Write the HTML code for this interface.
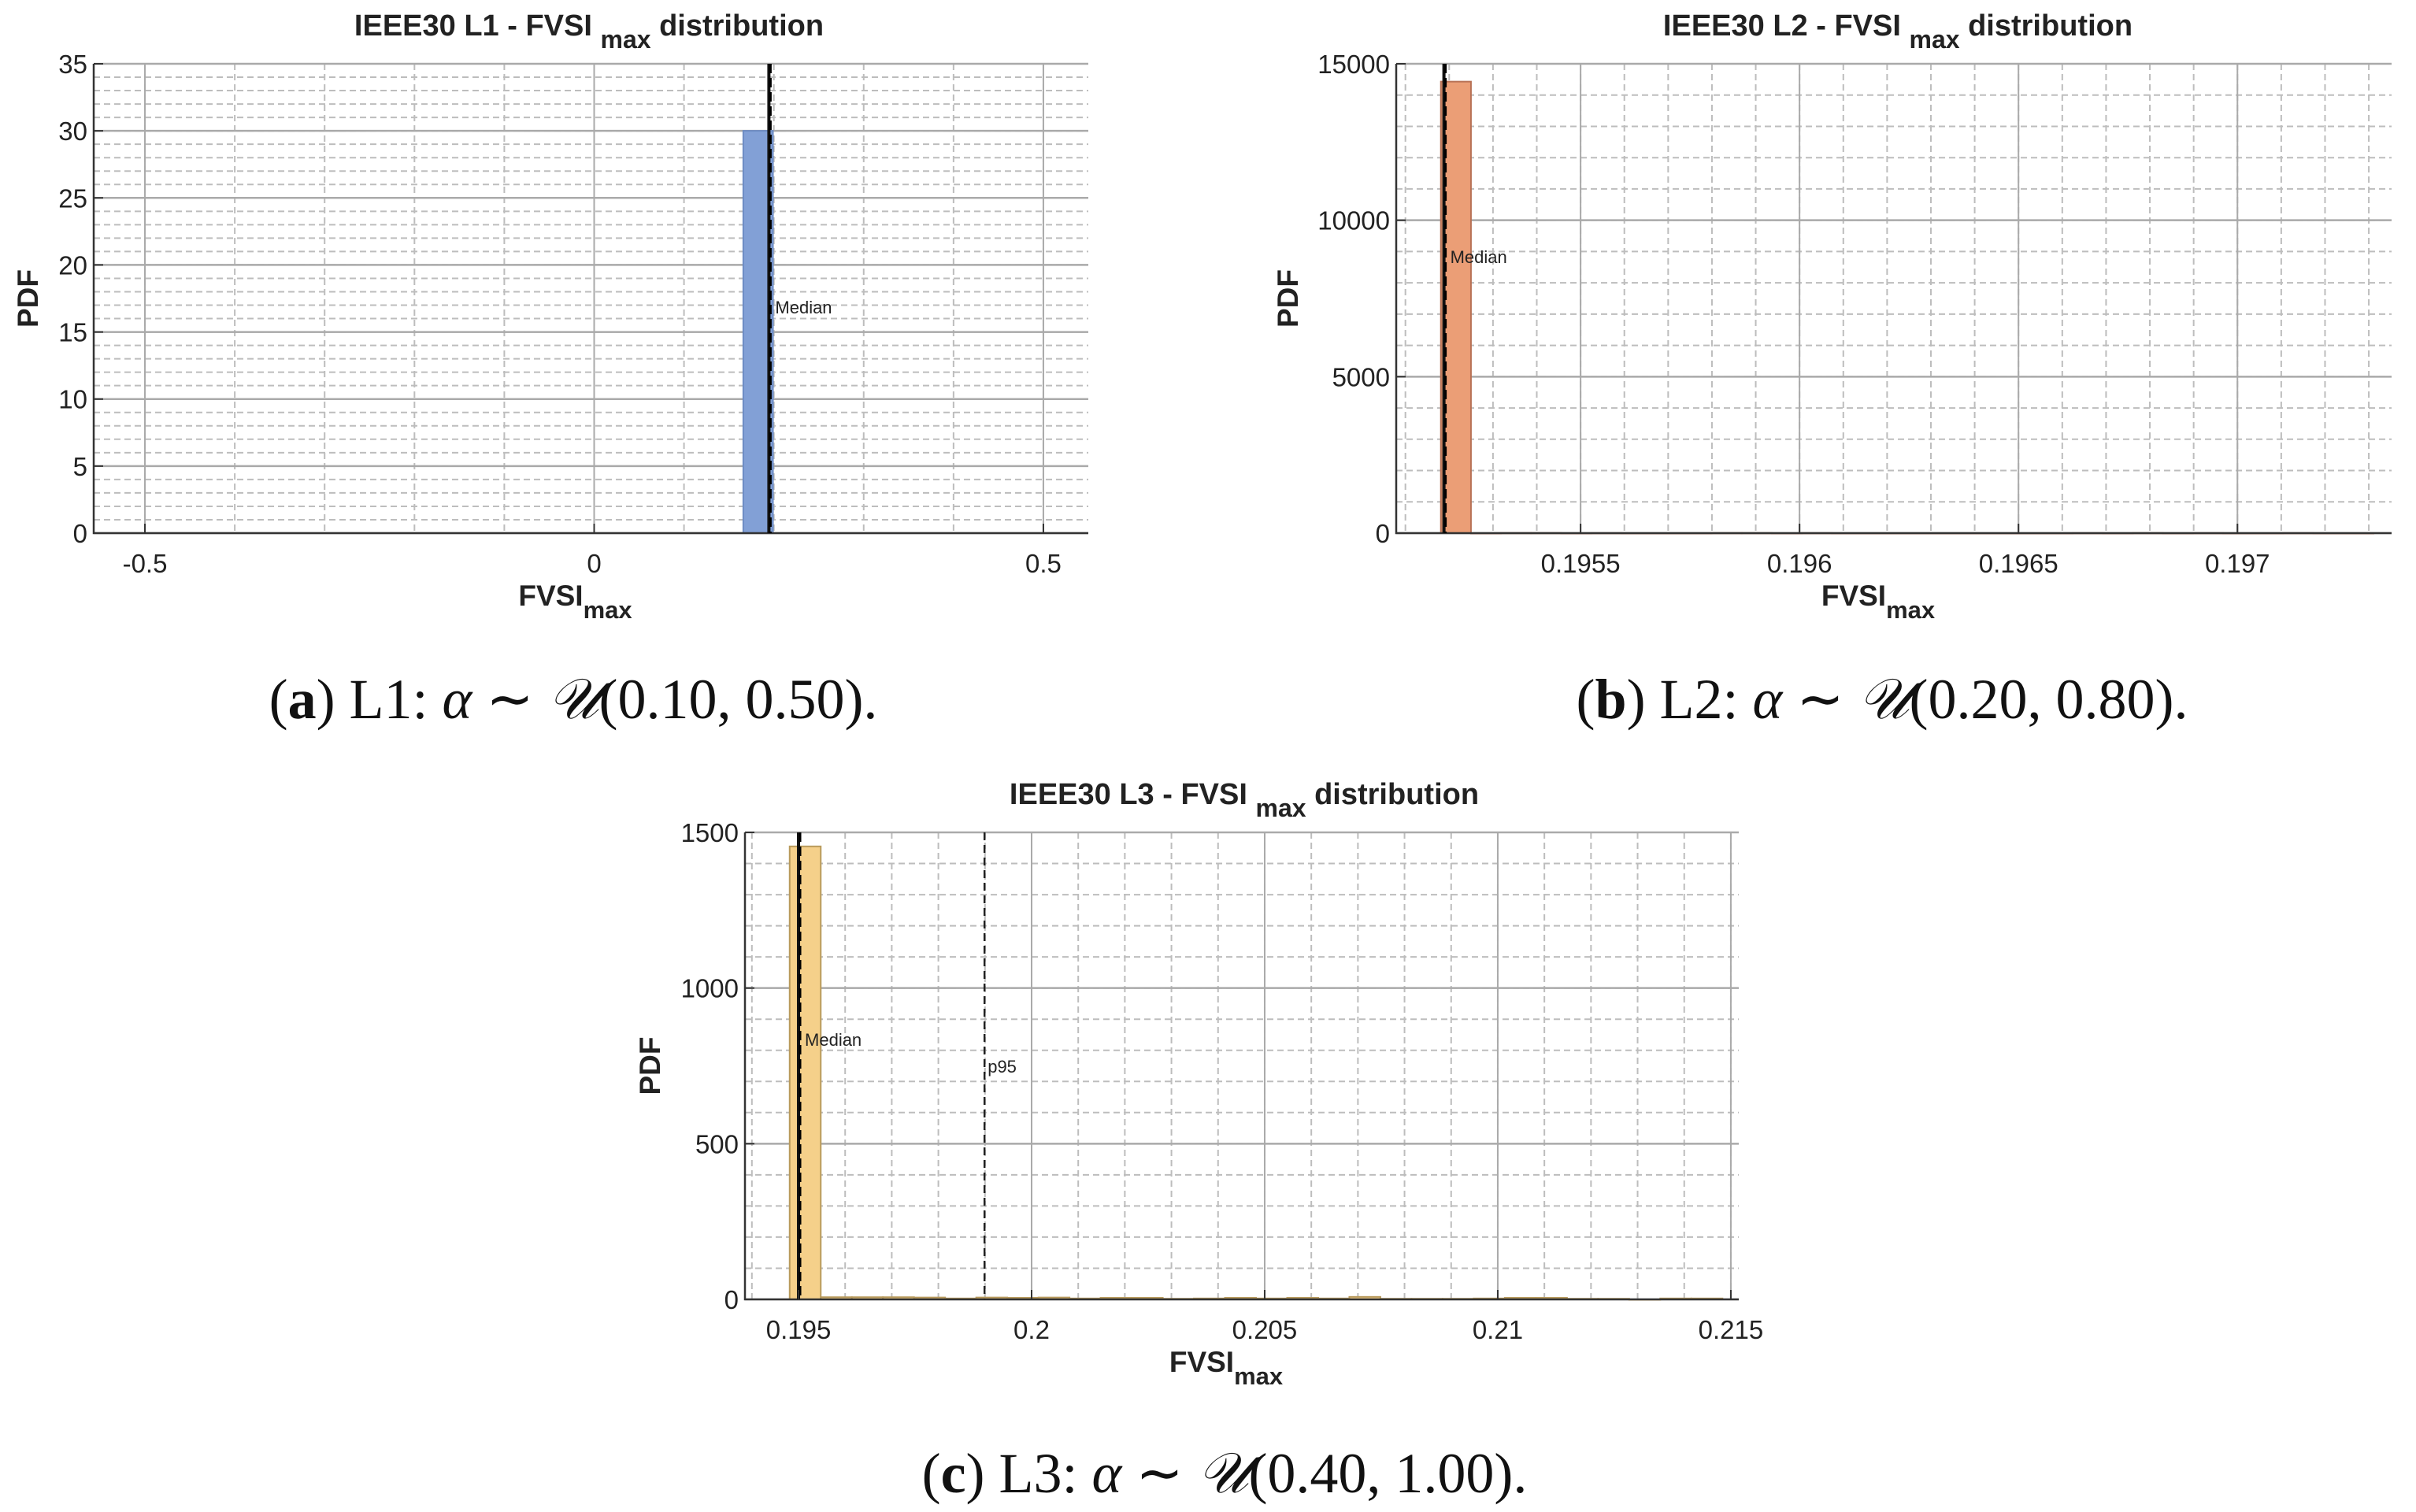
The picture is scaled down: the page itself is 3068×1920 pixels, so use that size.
<!DOCTYPE html>
<html><head><meta charset="utf-8"><style>
html,body{margin:0;padding:0;background:#fff;}
svg{display:block;}
text{font-family:"Liberation Sans",sans-serif;fill:#222;}
.cap{font-family:"Liberation Serif",serif;font-size:72px;fill:#111;}
</style></head><body>
<svg id="fig" width="3068" height="1920" viewBox="0 0 3068 1920" xmlns="http://www.w3.org/2000/svg">
<text class="cap" x="728" y="912" text-anchor="middle">(<tspan font-weight="bold">a</tspan>) L1: <tspan font-style="italic">α</tspan> ∼ <tspan font-style="italic">𝒰</tspan>(0.10, 0.50).</text>
<text class="cap" x="2390" y="912" text-anchor="middle">(<tspan font-weight="bold">b</tspan>) L2: <tspan font-style="italic">α</tspan> ∼ <tspan font-style="italic">𝒰</tspan>(0.20, 0.80).</text>
<text class="cap" x="1555" y="1895" text-anchor="middle">(<tspan font-weight="bold">c</tspan>) L3: <tspan font-style="italic">α</tspan> ∼ <tspan font-style="italic">𝒰</tspan>(0.40, 1.00).</text>
</svg>
<script>
// Panel A data
const aBinStart = 0.166;
const aBinWidth = 0.033;
const aValues = [30];
const aMedian = 0.1945;
const aXTicks = [-0.5, 0, 0.5];
const aYTicks = [0, 5, 10, 15, 20, 25, 30, 35];
// Panel B data
const bBinStart = 0.195181;
const bBinWidth = 0.0000687;
const bValues = [14430,0,5,5,0,3,0,0,0,4,4,0,3,0,0,0,0,0,0,0,0,3,0,4,0,3,0,0,3,0,0];
const bMedian = 0.195188;
const bXTicks = [0.1955, 0.196, 0.1965, 0.197];
const bYTicks = [0, 5000, 10000, 15000];
// Panel C data
const cBinStart = 0.19481;
const cBinWidth = 0.000667;
const cValues = [1455,7,7,7,6,3,6,5,6,3,5,5,2,3,5,3,5,3,8,2,2,2,3,5,5,2,2,0,3,3];
const cMedian = 0.19500;
const cP95 = 0.19899;
const cXTicks = [0.195, 0.2, 0.205, 0.21, 0.215];
const cXTickLabels = ['0.195','0.2','0.205','0.21','0.215'];
const cYTicks = [0, 500, 1000, 1500];

const NS = 'http://www.w3.org/2000/svg';
const svg = document.getElementById('fig');
function el(tag, attrs, parent){const e=document.createElementNS(NS,tag);for(const k in attrs)e.setAttribute(k,attrs[k]);(parent||svg).appendChild(e);return e;}

function panel(cfg){
  const g = el('g',{});
  
  
  const sx = v => cfg.L + (v-cfg.x0)/(cfg.x1-cfg.x0)*(cfg.R-cfg.L);
  const sy = v => cfg.B - (v-cfg.y0)/(cfg.y1-cfg.y0)*(cfg.B-cfg.T);
  for(let v=Math.ceil(cfg.x0/cfg.xMinor-1e-9)*cfg.xMinor; v<=cfg.x1+1e-12; v+=cfg.xMinor){
    const x=sx(v); if(x<cfg.L+1) continue;
    const ln=el('line',{x1:x,x2:x,y1:cfg.T,y2:cfg.B,stroke:'#bdbdbd','stroke-width':2,'stroke-dasharray':'8,5'},g);
     
  }
  for(let v=cfg.y0; v<=cfg.y1+1e-9; v+=cfg.yMinor){
    const y=sy(v);
    const ln=el('line',{x1:cfg.L,x2:cfg.R,y1:y,y2:y,stroke:'#bdbdbd','stroke-width':2,'stroke-dasharray':'8,5'},g);
     
  }
  cfg.xMajor.forEach(v=>{const x=sx(v);
    const ln=el('line',{x1:x,x2:x,y1:cfg.T,y2:cfg.B,stroke:'#aaa','stroke-width':2},g);
     });
  cfg.yTicks.forEach(v=>{const y=sy(v);
    const ln=el('line',{x1:cfg.L,x2:cfg.R,y1:y,y2:y,stroke:'#aaa','stroke-width':2.5},g);
     });
  cfg.values.forEach((v,i)=>{
    const xa=sx(cfg.bin0+i*cfg.binW), xb=sx(cfg.bin0+(i+1)*cfg.binW);
    const ya=sy(v);
    const r=el('rect',{x:xa,y:ya,width:xb-xa,height:Math.max(cfg.B-ya,0.5),fill:cfg.color,stroke:cfg.edge,'stroke-width':2},g);
     
  });
  const ax=el('path',{d:`M${cfg.L},${cfg.T} L${cfg.L},${cfg.B} L${cfg.R},${cfg.B}`,fill:'none',stroke:'#333','stroke-width':2.5},g);
   
  const mx=sx(cfg.median);
  const m1=el('line',{x1:mx,x2:mx,y1:cfg.T,y2:cfg.B,stroke:'#111','stroke-width':4},g);
   
  const m2=el('line',{x1:mx+2,x2:mx+2,y1:cfg.T,y2:cfg.B,stroke:'#000','stroke-width':3,'stroke-dasharray':'12,6'},g);
   
  const mt=el('text',{x:mx+8,y:cfg.medY,'font-size':22},g); mt.textContent='Median';
   
  if(cfg.p95!==undefined){
    const px=sx(cfg.p95);
    const p=el('line',{x1:px,x2:px,y1:cfg.T,y2:cfg.B,stroke:'#222','stroke-width':2.5,'stroke-dasharray':'10,6'},g);
     
    const pt=el('text',{x:px+4,y:cfg.p95Y,'font-size':22},g); pt.textContent='p95';
     
  }
  cfg.xTicks.forEach((v,i)=>{const x=sx(v);
    const tk=el('line',{x1:x,x2:x,y1:cfg.B,y2:cfg.B-12,stroke:'#333','stroke-width':2},g);
     
    const t=el('text',{x:x,y:cfg.B+50,'font-size':33,'text-anchor':'middle'},g);
    t.textContent=cfg.xLabels?cfg.xLabels[i]:String(v);
     });
  cfg.yTicks.forEach(v=>{const y=sy(v);
    const tk=el('line',{x1:cfg.L,x2:cfg.L+12,y1:y,y2:y,stroke:'#333','stroke-width':2},g);
     
    const t=el('text',{x:cfg.L-8,y:y+12,'font-size':33,'text-anchor':'end'},g); t.textContent=String(v);
     });
  const tt=el('text',{x:cfg.titleX,y:cfg.T-36,'font-size':38,'font-weight':'bold','text-anchor':'middle'},g);
  tt.innerHTML=cfg.title+' - FVSI <tspan font-size="32" dy="16">max</tspan><tspan dy="-16"> distribution</tspan>';
   
  const xl=el('text',{x:(cfg.L+cfg.R)/2-20,y:cfg.B+92,'font-size':37,'font-weight':'bold','text-anchor':'middle'},g);
  xl.innerHTML='FVSI<tspan font-size="31" dy="16">max</tspan>';
   
  const yl=el('text',{x:0,y:0,'font-size':37,'font-weight':'bold','text-anchor':'middle',transform:`translate(${cfg.yLabX},${(cfg.T+cfg.B)/2}) rotate(-90)`},g);
  yl.textContent='PDF';
   
}

panel({name:'panel-a',L:119,R:1382,T:81,B:677,x0:-0.557,x1:0.55,y0:0,y1:35,xMinor:0.1,yMinor:1,
  xMajor:[-0.5,0,0.5],xTicks:aXTicks,yTicks:aYTicks,values:aValues,bin0:aBinStart,binW:aBinWidth,
  color:'#82a0d6',edge:'#6d8cc4',median:aMedian,medY:398,title:'IEEE30 L1 ',titleX:748,yLabX:48});
panel({name:'panel-b',L:1773,R:3037,T:81,B:677,x0:0.195079,x1:0.197352,y0:0,y1:15000,xMinor:0.0001,yMinor:1000,
  xMajor:bXTicks,xTicks:bXTicks,yTicks:bYTicks,values:bValues,bin0:bBinStart,binW:bBinWidth,
  color:'#eb9e76',edge:'#b87256',median:bMedian,medY:334,title:'IEEE30  L2',titleX:2410,yLabX:1648});
panel({name:'panel-c',L:946,R:2208,T:1057,B:1650,x0:0.193851,x1:0.21517,y0:0,y1:1500,xMinor:0.001,yMinor:100,
  xMajor:cXTicks,xTicks:cXTicks,xLabels:cXTickLabels,yTicks:cYTicks,values:cValues,bin0:cBinStart,binW:cBinWidth,
  color:'#f5d08a',edge:'#b89a5c',median:cMedian,medY:1328,p95:cP95,p95Y:1362,title:'IEEE30 L3 ',titleX:1580,yLabX:838});
</script>
</body></html>
